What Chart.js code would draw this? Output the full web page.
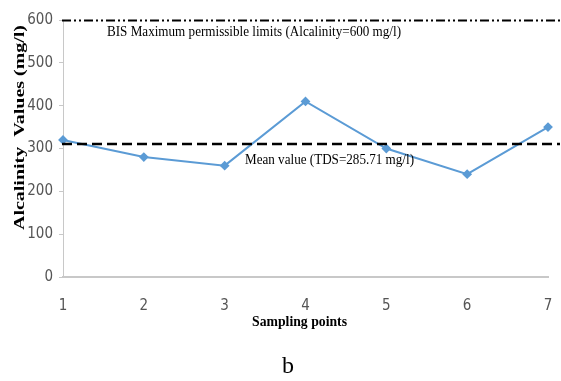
<!DOCTYPE html>
<html>
<head>
<meta charset="utf-8">
<script src="https://cdn.jsdelivr.net/npm/chart.js@4"></script>
<style>
html,body{margin:0;padding:0;background:#fff;}
canvas{display:block;}
</style>
</head>
<body>
<canvas id="c" width="561" height="381"></canvas>
<script>
const points=['1','2','3','4','5','6','7'];
const alkalinity=[320,280,260,410,300,240,350];
const bisLimit=600;
const meanLine=310;
const bisLabel='BIS Maximum permissible limits (Alcalinity=600 mg/l)';
const meanLabel='Mean value (TDS=285.71 mg/l)';
const yTicks=[0,100,200,300,400,500,600];

const serif='"Liberation Serif","DejaVu Serif",serif';
const tickFont='"DejaVu Sans Condensed","Open Sans",sans-serif';

function fitText(ctx,txt,x,y,w){
 const m=ctx.measureText(txt).width;
 ctx.save();ctx.translate(x,y);ctx.scale(w/m,1);ctx.fillText(txt,0,0);ctx.restore();
}

const refLines={
 id:'refLines',
 afterDatasetsDraw(chart){
  const ctx=chart.ctx,y=chart.scales.y;
  ctx.save();
  ctx.strokeStyle='#000';
  // BIS limit
  let py=Math.round(y.getPixelForValue(bisLimit))+0.5;
  ctx.lineWidth=2;ctx.setLineDash([9,3,2,3,2,3]);
  ctx.beginPath();ctx.moveTo(62,py);ctx.lineTo(560,py);ctx.stroke();
  // mean
  py=Math.round(y.getPixelForValue(meanLine));
  ctx.lineWidth=2.5;ctx.setLineDash([10,5]);
  ctx.beginPath();ctx.moveTo(62,py);ctx.lineTo(560,py);ctx.stroke();
  ctx.setLineDash([]);
  ctx.fillStyle='#000';ctx.textBaseline='middle';ctx.textAlign='left';
  ctx.font='14px '+serif;
  fitText(ctx,bisLabel,107,y.getPixelForValue(bisLimit)+12,294);
  fitText(ctx,meanLabel,245,y.getPixelForValue(meanLine)+16,169);
  // axis titles
  ctx.font='bold 15px '+serif;
  ctx.save();ctx.translate(20,230);ctx.rotate(-Math.PI/2);
  fitText(ctx,'Alcalinity  Values (mg/l)',0,0,205);ctx.restore();
  ctx.font='bold 14px '+serif;
  fitText(ctx,'Sampling points',252,322,95);
  ctx.textAlign='center';
  ctx.font='24px '+serif;
  ctx.fillText('b',288,367);
  ctx.restore();
 }
};

new Chart(document.getElementById('c'),{
 type:'line',
 data:{labels:points,datasets:[{data:alkalinity,borderColor:'#5b9bd5',backgroundColor:'#5b9bd5',borderWidth:2,pointStyle:'rectRot',pointRadius:3.5,tension:0}]},
 options:{
  responsive:false,animation:false,
  layout:{padding:{top:20,right:13,left:0,bottom:0}},
  plugins:{legend:{display:false},tooltip:{enabled:false}},
  scales:{
   x:{offset:false,
    grid:{display:false,drawOnChartArea:false,drawTicks:true,tickLength:6,color:'#c8c8c8'},
    border:{color:'#c8c8c8',width:2},
    ticks:{color:'#555',font:{family:tickFont,size:15},padding:14,maxRotation:0},
    afterFit(s){s.height=104;s.paddingLeft=0;s.paddingRight=0;}},
   y:{min:0,max:600,
    afterBuildTicks(s){s.ticks=yTicks.map(v=>({value:v}));},
    grid:{display:true,drawOnChartArea:false,tickLength:4,color:'#c8c8c8'},
    border:{color:'#c8c8c8',width:1},
    ticks:{color:'#555',font:{family:tickFont,size:15},padding:6},
    afterFit(s){s.width=63;s.paddingTop=0;s.paddingBottom=0;}}
  }
 },
 plugins:[refLines]
});
</script>
</body>
</html>
